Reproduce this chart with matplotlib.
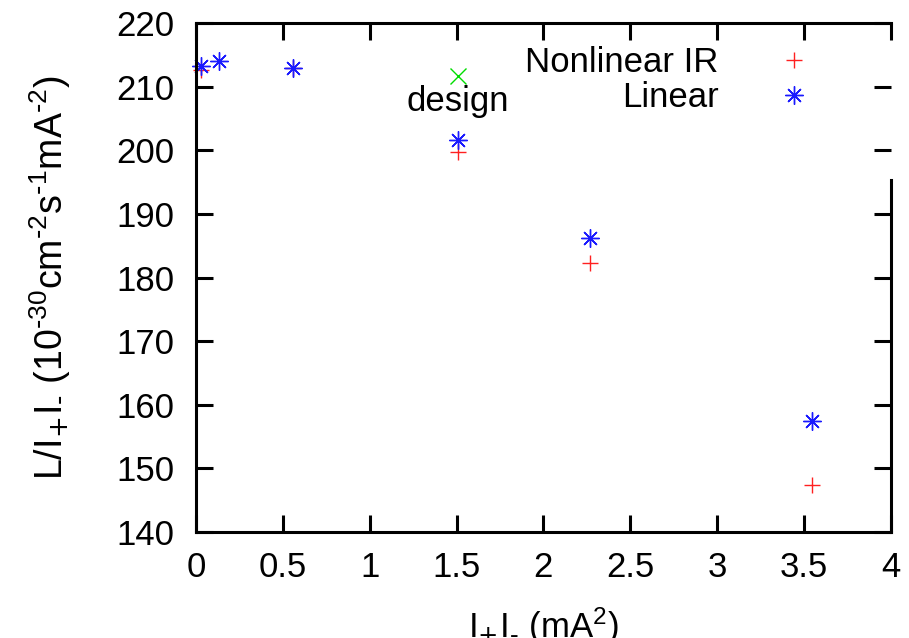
import matplotlib.pyplot as plt

# luminosity per unit current product vs current product
x_nonlinear = [0.03, 0.56, 1.51, 2.27, 3.545]
y_nonlinear = [212.6, 212.9, 199.7, 182.3, 147.4]

x_linear = [0.03, 0.13, 0.56, 1.51, 2.27, 3.545]
y_linear = [213.2, 214.0, 212.9, 201.6, 186.2, 157.4]

x_design = [1.51]
y_design = [211.7]

x_ticks = [0, 0.5, 1, 1.5, 2, 2.5, 3, 3.5, 4]
x_tick_labels = ['0', '0.5', '1', '1.5', '2', '2.5', '3', '3.5', '4']
y_ticks = [140, 150, 160, 170, 180, 190, 200, 210, 220]


def make_plot():
    plt.rcParams['font.family'] = 'Liberation Sans'
    plt.rcParams['font.size'] = 25
    plt.rcParams['mathtext.default'] = 'regular'

    fig = plt.figure(figsize=(9.09, 6.38), dpi=100)
    ax = fig.add_axes([0.2156, 0.1661, 0.7644, 0.7978])

    ax.plot(x_nonlinear, y_nonlinear, linestyle='none', marker='+', markersize=12,
            markeredgewidth=1.0, color='#ff2020', label='Nonlinear IR', clip_on=False)
    ax.plot(x_linear, y_linear, linestyle='none', marker=(8, 2, 0), markersize=13,
            markeredgewidth=1.0, color='#1a1aff', label='Linear', clip_on=False)
    ax.plot(x_design, y_design, linestyle='none', marker='x', markersize=11,
            markeredgewidth=1.0, color='#00dd00', clip_on=False)
    ax.text(1.505, 206.2, 'design', ha='center', va='baseline')

    ax.set_xlim(0, 4)
    ax.set_ylim(140, 220)
    ax.set_xticks(x_ticks)
    ax.set_xticklabels(x_tick_labels)
    ax.set_yticks(y_ticks)

    for side in ['left', 'right', 'top', 'bottom']:
        ax.spines[side].set_linewidth(2.2)
    # the key box covers the upper part of the right border
    ax.spines['right'].set_bounds(140, 195.3)

    ax.tick_params(axis='both', direction='in', length=12, width=2.2,
                   top=True, right=True)
    ax.tick_params(axis='y', pad=15.5)
    ax.tick_params(axis='x', pad=14)

    # plain hyphens instead of math minus signs
    ax.set_xlabel(r'I$_{\text{+}}$I$_{\text{-}}$ (mA$^2$)', labelpad=15)
    ax.set_ylabel(r'L/I$_{\text{+}}$I$_{\text{-}}$ (10$^{\text{-}30}$cm$^{\text{-}2}$'
                  r's$^{\text{-}1}$mA$^{\text{-}2}$)', fontsize=27, labelpad=31)

    ax.legend(loc='upper right', bbox_to_anchor=(0.911, 0.955), frameon=False,
              markerfirst=False, handlelength=2, handletextpad=1.18,
              labelspacing=0.07, borderpad=0, borderaxespad=0)

    fig.savefig('out.png', dpi=100)


if __name__ == "__main__":
    make_plot()
